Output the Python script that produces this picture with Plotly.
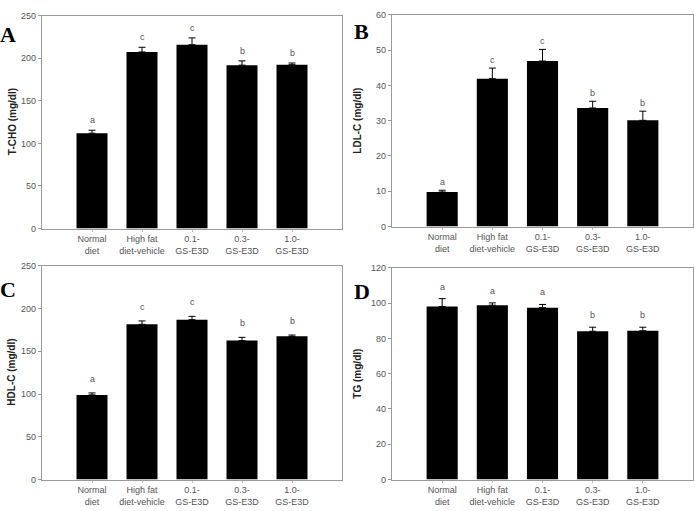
import plotly.graph_objects as go

W, H = 695, 511

categories = ["Normal<br>diet", "High fat<br>diet-vehicle", "0.1-<br>GS-E3D", "0.3-<br>GS-E3D", "1.0-<br>GS-E3D"]

tcho_mean = [112, 207.5, 216, 192, 192.5]
tcho_err = [3.5, 5.5, 8, 5, 2]
tcho_letters = ["a", "c", "c", "b", "b"]

ldl_mean = [9.8, 41.9, 46.9, 33.6, 30.1]
ldl_err = [0.5, 3.0, 3.3, 1.9, 2.6]
ldl_letters = ["a", "c", "c", "b", "b"]

hdl_mean = [99, 181.5, 187, 162.5, 167.5]
hdl_err = [2.3, 4, 3.8, 3.8, 1.5]
hdl_letters = ["a", "c", "c", "b", "b"]

tg_mean = [98, 98.8, 97.4, 84, 84.3]
tg_err = [4.5, 1.3, 1.8, 2.3, 2.0]
tg_letters = ["a", "a", "a", "b", "b"]

y_titles = ["T-CHO (mg/dl)", "LDL-C (mg/dl)", "HDL-C (mg/dl)", "TG (mg/dl)"]
panel_labels = ["A", "B", "C", "D"]
y_ranges = [[0, 250], [0, 60], [0, 250], [0, 120]]
y_dticks = [50, 10, 50, 20]

# pixel boxes: (left, right, top, bottom)
boxes = [(42, 342, 11, 228), (392, 693, 10, 226), (42, 342, 266, 484), (392, 693, 268, 484)]
letter_shift = [3, 1, 7, 5]
title_x = [12, 358, 12, 358]
panel_pos = [(8, 30), (361, 27), (8, 290), (362, 292)]

means = [tcho_mean, ldl_mean, hdl_mean, tg_mean]
errs = [tcho_err, ldl_err, hdl_err, tg_err]
letters = [tcho_letters, ldl_letters, hdl_letters, tg_letters]

fig = go.Figure()
annotations = []
axis_line = "#9a9a9a"
tick_font = dict(family="Liberation Sans, Arial", size=9, color="#555555")

for i in range(4):
    n = "" if i == 0 else str(i + 1)
    L, R, T, B = boxes[i]
    fig.add_trace(go.Bar(
        x=categories, y=means[i],
        xaxis="x" + n, yaxis="y" + n,
        width=0.62,
        marker=dict(color="black", line=dict(width=0)),
        error_y=dict(type="data", array=errs[i], arrayminus=[0] * len(errs[i]),
                     symmetric=False, color="black", thickness=1, width=3.5),
        showlegend=False,
    ))
    fig.update_layout(**{
        "xaxis" + n: dict(
            domain=[L / W, R / W], anchor="y" + n,
            range=[-1, 5], showline=True, mirror=True, linecolor=axis_line, linewidth=1.2,
            ticks="outside", ticklen=2, tickcolor="#bbbbbb", tickfont=tick_font,
            showgrid=False, zeroline=False, fixedrange=True,
        ),
        "yaxis" + n: dict(
            domain=[1 - B / H, 1 - T / H], anchor="x" + n,
            range=y_ranges[i], dtick=y_dticks[i], showline=True, mirror=True,
            linecolor=axis_line, linewidth=1.2, ticks="outside", ticklen=3,
            tickcolor=axis_line, tickfont=tick_font, showgrid=False, zeroline=False,
        ),
    })
    for j, cat in enumerate(categories):
        annotations.append(dict(
            x=cat, y=means[i][j] + errs[i][j], xref="x" + n, yref="y" + n,
            text=letters[i][j], showarrow=False, yanchor="bottom", yshift=letter_shift[i],
            font=dict(family="Liberation Sans, Arial", size=9, color="#555555"),
        ))
    annotations.append(dict(
        x=title_x[i] / W, y=1 - (T + B) / 2 / H, xref="paper", yref="paper",
        text="<b>" + y_titles[i] + "</b>", textangle=-90, showarrow=False,
        xanchor="center", yanchor="middle",
        font=dict(family="Liberation Sans, Arial", size=10, color="#222222"),
    ))
    px, py = panel_pos[i]
    annotations.append(dict(
        x=px / W, y=1 - py / H, xref="paper", yref="paper",
        text="<b>" + panel_labels[i] + "</b>", showarrow=False,
        xanchor="center", yanchor="middle",
        font=dict(family="Liberation Serif, Times New Roman", size=22, color="black"),
    ))

fig.update_layout(
    width=W, height=H, margin=dict(l=0, r=0, t=0, b=0),
    paper_bgcolor="white", plot_bgcolor="white",
    annotations=annotations, bargap=0.38,
)

fig.write_html("out.html")
